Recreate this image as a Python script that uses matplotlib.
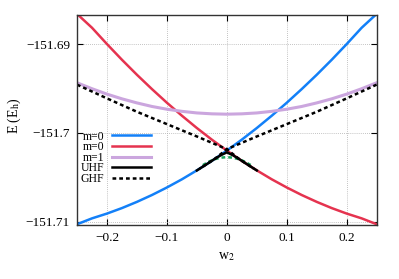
import numpy as np
import matplotlib.pyplot as plt

plt.rcParams['font.family'] = ['Liberation Serif', 'DejaVu Serif']
plt.rcParams['mathtext.fontset'] = 'stix'

# values
w2 = [-0.25, -0.225, -0.2, -0.175, -0.15, -0.125, -0.1, -0.075, -0.05, -0.025,
      0.0, 0.025, 0.05, 0.075, 0.1, 0.125, 0.15, 0.175, 0.2, 0.225, 0.25]
m0_up = [-151.71030, -151.70964, -151.70910, -151.70848, -151.70778, -151.70701,
         -151.70616, -151.70524, -151.70423, -151.70316, -151.70200, -151.70077,
         -151.69946, -151.69807, -151.69661, -151.69507, -151.69346, -151.69177,
         -151.69000, -151.68816, -151.68660]
m0_down = m0_up[::-1]
m1 = [-151.69436, -151.69503, -151.69564, -151.69617, -151.69663, -151.69703,
      -151.69734, -151.69758, -151.69776, -151.69786, -151.69790, -151.69786,
      -151.69776, -151.69758, -151.69734, -151.69703, -151.69663, -151.69617,
      -151.69564, -151.69503, -151.69436]

w2_uhf = [-0.05, -0.04, -0.03, -0.02, -0.01, 0.0, 0.01, 0.02, 0.03, 0.04, 0.05]
uhf = [-151.70424, -151.70381, -151.70338, -151.70293, -151.70252, -151.70220,
       -151.70252, -151.70293, -151.70338, -151.70381, -151.70424]

w2_green = [-0.04, -0.03, -0.02, -0.01, 0.0, 0.01, 0.02, 0.03, 0.04]
green = [-151.70364, -151.70325, -151.70297, -151.70280, -151.70274,
         -151.70280, -151.70297, -151.70325, -151.70364]

w2_ghf = [-0.25, -0.2, -0.15, -0.1, -0.05, 0.0, 0.02, 0.045]
ghf = [-151.69457, -151.69612, -151.69763, -151.69902, -151.70041, -151.70184,
       -151.70293, -151.70403]

fig = plt.figure(figsize=(3.99, 2.79), dpi=100)
ax = fig.add_axes([0.193, 0.1925, 0.751, 0.7545])

ax.plot(w2, m0_up, color='#1380f8', lw=1.8, label='m=0')
ax.plot(w2, m0_down, color='#e5334f', lw=1.8, label='m=0')
ax.plot(w2, m1, color='#cba6de', lw=2.2, label='m=1')
ax.plot(w2_green, green, color='#1aa35c', lw=1.8, ls=(0, (1.5, 1.2)))
ax.plot(w2_uhf, uhf, color='black', lw=1.8, label='UHF')
ax.plot(w2_ghf, ghf, color='black', lw=1.8, ls=(0, (1.5, 1.2)), label='GHF')
ax.plot([-x for x in w2_ghf], ghf, color='black', lw=1.8, ls=(0, (1.5, 1.2)))

ax.set_xlim(-0.25, 0.25)
ax.set_ylim(-151.71042, -151.6867)
xt = [-0.2, -0.1, 0.0, 0.1, 0.2]
yt = [-151.71, -151.7, -151.69]
ax.set_xticks(xt)
ax.set_xticklabels(['\u22120.2', '\u22120.1', '0', '0.1', '0.2'])
ax.set_yticks(yt)
ax.set_yticklabels(['\u2212151.71', '\u2212151.7', '\u2212151.69'])
ax.tick_params(direction='in', top=True, right=True, labelsize=9.5, length=4,
               width=0.8, pad=5)
ax.grid(True, color='#b0b0b0', ls=(0, (1, 1.5)), lw=0.6)
for s in ax.spines.values():
    s.set_linewidth(1.0)
    s.set_color('#333333')

ax.set_xlabel('w$_2$', fontsize=10, labelpad=4)
ax.set_ylabel('E (E$_\\mathrm{h}$)', fontsize=10)
ax.yaxis.set_label_coords(-0.18, 0.52)

ax.legend(loc='upper left', bbox_to_anchor=(0.012, 0.45), frameon=False,
          markerfirst=False, fontsize=8.5, handlelength=3.3, handletextpad=0.7,
          labelspacing=-0.12, borderpad=0, borderaxespad=0)

fig.savefig('out.png', dpi=100)
